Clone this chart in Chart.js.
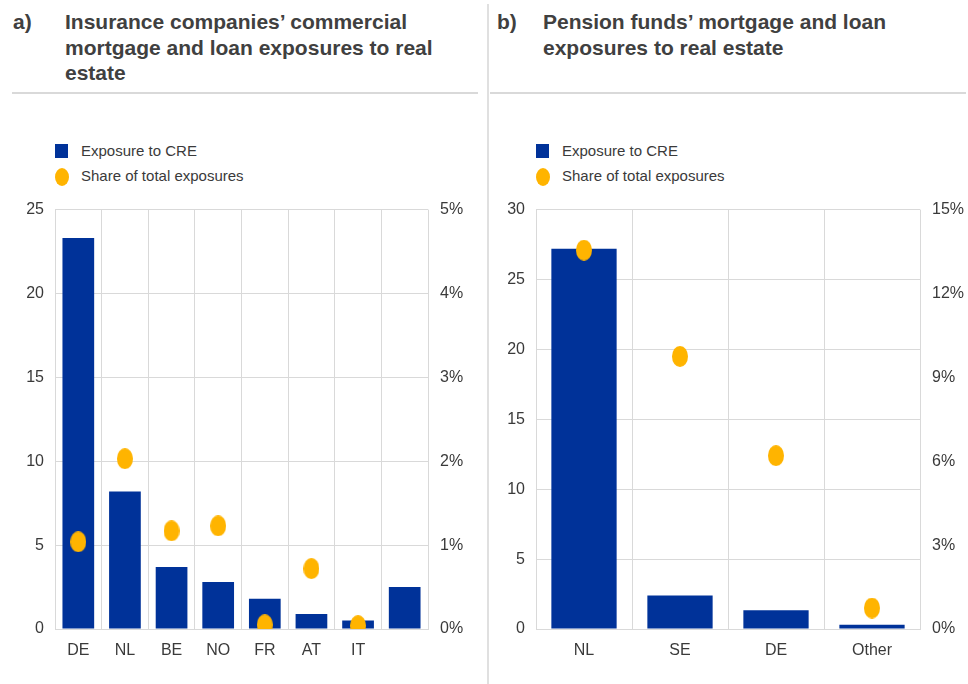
<!DOCTYPE html>
<html>
<head>
<meta charset="utf-8">
<script src="https://cdn.jsdelivr.net/npm/chart.js@4/dist/chart.umd.min.js"></script>
<style>
  body { margin: 0; width: 968px; height: 684px; background: #fff; position: relative; overflow: hidden;
         font-family: 'Liberation Sans', Arial, sans-serif; color: #3a3a3a; }
  .ttl { position: absolute; top: 9px; font: bold 21px 'Liberation Sans', Arial, sans-serif; color: #404040; line-height: 25.5px; }
  .hline { position: absolute; top: 92px; height: 2px; background: #d9d9d9; }
  .vline { position: absolute; left: 487px; top: 4px; width: 2px; height: 680px; background: #e0e0e0; }
  .legend { position: absolute; top: 140px; font-size: 15px; }
  .legend div { height: 24.5px; line-height: 22px; position: relative; padding-left: 26px; }
  .legend .sq { position: absolute; left: 0; top: 4px; width: 13px; height: 14px; background: #003299; }
  .legend .dot { position: absolute; left: 0; top: 3px; width: 14px; height: 18px; border-radius: 50%; background: #ffb400; }
  .wrap { position: absolute; top: 188px; width: 480px; height: 496px; }
</style>
</head>
<body>
<div class="ttl" style="left:13px">a)</div>
<div class="ttl" style="left:65px;width:400px">Insurance companies’ commercial mortgage and loan exposures to real estate</div>
<div class="ttl" style="left:497px">b)</div>
<div class="ttl" style="left:543px;width:400px">Pension funds’ mortgage and loan exposures to real estate</div>
<div class="hline" style="left:12px;width:466px"></div>
<div class="hline" style="left:490px;width:476px"></div>
<div class="vline"></div>

<div class="legend" id="legA" style="left:55px"></div>
<div class="legend" id="legB" style="left:536px"></div>

<div class="wrap" style="left:0"><canvas id="chartA" width="480" height="496"></canvas></div>
<div class="wrap" style="left:488px"><canvas id="chartB" width="480" height="496"></canvas></div>

<script>
(() => {
  'use strict'

  // panel a: insurance companies (EUR bn, share in %)
  const catsA = ['DE', 'NL', 'BE', 'NO', 'FR', 'AT', 'IT', '']
  const exposureA = [23.3, 8.2, 3.7, 2.8, 1.8, 0.9, 0.5, 2.5]
  const shareA = [1.04, 2.03, 1.17, 1.23, 0.05, 0.72, 0.04, null]

  // panel b: pension funds
  const catsB = ['NL', 'SE', 'DE', 'Other']
  const exposureB = [27.2, 2.4, 1.35, 0.3]
  const shareB = [13.55, 9.75, 6.2, 0.75]

  const seriesNames = ['Exposure to CRE', 'Share of total exposures']

  const blue = '#003299'
  const yellow = '#ffb400'
  const gridCol = '#d9d9d9'
  const textCol = '#3a3a3a'
  const tickFont = { family: "'Liberation Sans', Arial, sans-serif", size: 16 }

  // dots in the source look slightly taller than wide
  const dot = document.createElement('canvas')
  dot.width = 16
  dot.height = 21
  const g = dot.getContext('2d')
  g.fillStyle = yellow
  g.beginPath()
  g.ellipse(8, 10.5, 8, 10.5, 0, 0, Math.PI * 2)
  g.fill()

  const buildLegend = (id) => {
    const el = document.getElementById(id)
    el.innerHTML = `<div><span class="sq"></span>${seriesNames[0]}</div>` +
                   `<div><span class="dot"></span>${seriesNames[1]}</div>`
  }
  buildLegend('legA')
  buildLegend('legB')

  const makeChart = (id, cats, bars, dots, o) => new Chart(document.getElementById(id), {
    data: {
      labels: cats,
      datasets: [
        {
          type: 'line',
          label: seriesNames[1],
          data: dots,
          yAxisID: 'y1',
          showLine: false,
          pointStyle: dot,
          pointRadius: 9,
          order: 0
        },
        {
          type: 'bar',
          label: seriesNames[0],
          data: bars,
          yAxisID: 'y',
          backgroundColor: blue,
          categoryPercentage: 0.68,
          barPercentage: 1.0,
          order: 1
        }
      ]
    },
    options: {
      responsive: false,
      animation: false,
      layout: { padding: { top: 8, left: 0, right: 0, bottom: 0 } },
      plugins: { legend: { display: false }, tooltip: { enabled: false } },
      scales: {
        x: {
          grid: { color: gridCol, offset: true, drawTicks: false },
          border: { color: gridCol },
          ticks: { color: textCol, font: tickFont, padding: 12 },
          afterFit: (s) => { s.height = 55 }
        },
        y: {
          position: 'left',
          min: 0, max: o.yMax,
          ticks: { stepSize: o.yStep, color: textCol, font: tickFont, padding: 11 },
          grid: { color: gridCol, drawTicks: false },
          border: { color: gridCol },
          afterFit: (s) => { s.width = o.leftW }
        },
        y1: {
          position: 'right',
          min: 0, max: o.y1Max,
          ticks: { stepSize: o.y1Step, color: textCol, font: tickFont, padding: 12,
                   callback: (v) => v + '%' },
          grid: { display: false, drawTicks: false },
          border: { display: false },
          afterFit: (s) => { s.width = o.rightW }
        }
      }
    }
  })

  makeChart('chartA', catsA, exposureA, shareA, { yMax: 25, yStep: 5, y1Max: 5, y1Step: 1, leftW: 55, rightW: 52 })
  makeChart('chartB', catsB, exposureB, shareB, { yMax: 30, yStep: 5, y1Max: 15, y1Step: 3, leftW: 48, rightW: 48 })
})()
</script>
</body>
</html>
